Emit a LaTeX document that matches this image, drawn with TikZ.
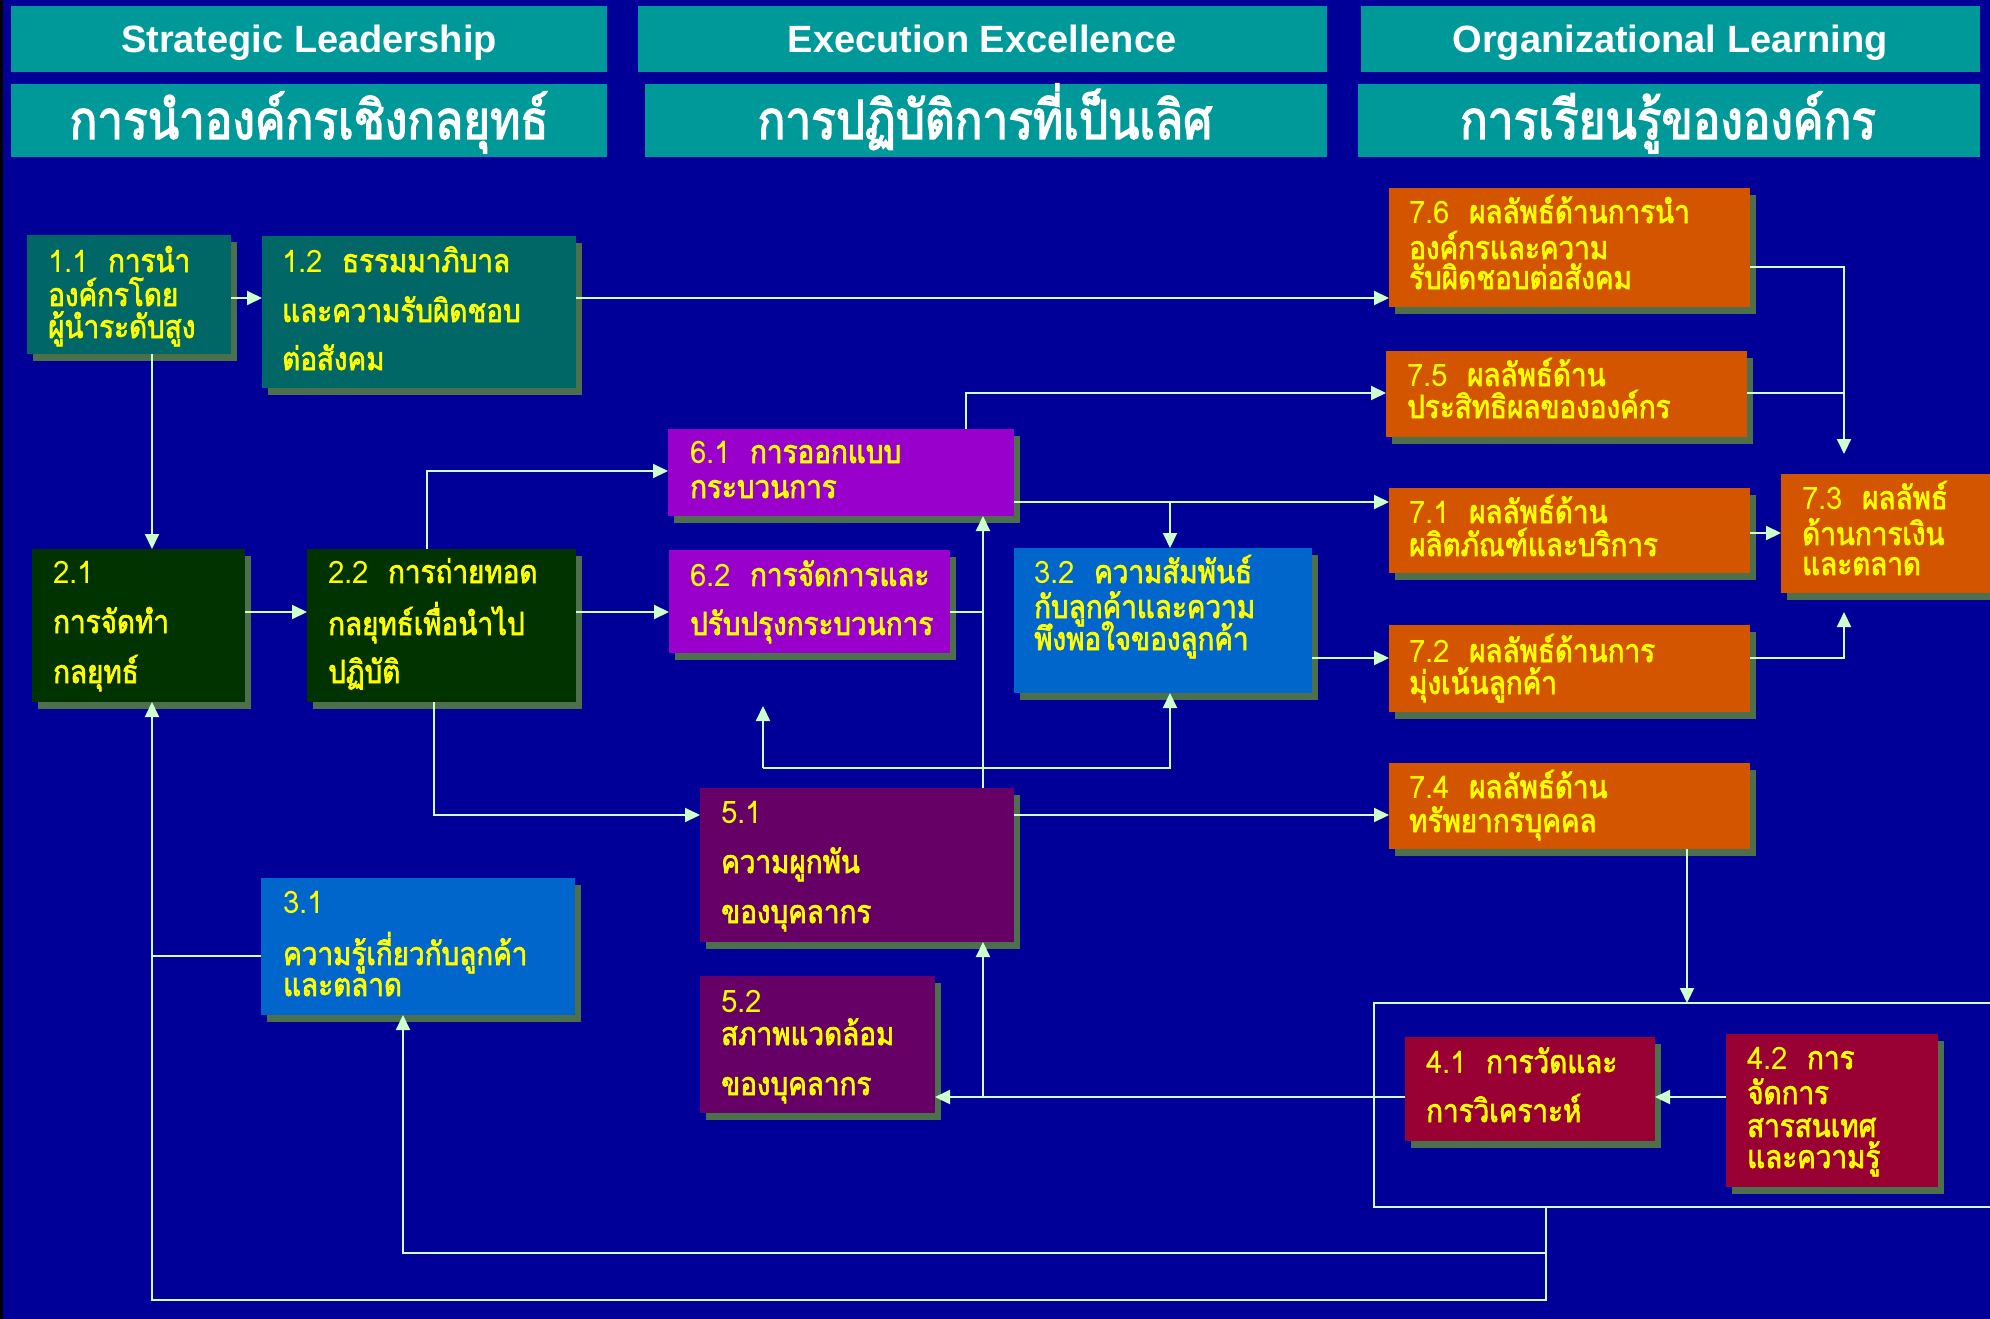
\documentclass[tikz,border=0pt]{standalone}
\usepackage{fontspec}
\usetikzlibrary{arrows.meta,shadows}
\newfontfamily\thaibf[Script=Thai,FakeBold=2.2,FakeStretch=0.87]{Loma}
\newfontfamily\thaihd[Script=Thai,FakeBold=2.5,FakeStretch=0.85]{Loma}
\newfontfamily\thainum[Script=Thai,FakeStretch=0.95]{Loma}
\newfontfamily\hdrf{Liberation Sans}
\definecolor{bg}{RGB}{0,0,153}
\definecolor{hteal}{RGB}{0,153,153}
\definecolor{shd}{RGB}{76,112,76}
\definecolor{ctealdk}{RGB}{0,102,102}
\definecolor{cgreen}{RGB}{0,51,0}
\definecolor{cblue}{RGB}{0,102,204}
\definecolor{cviolet}{RGB}{153,0,204}
\definecolor{cplum}{RGB}{102,0,102}
\definecolor{corange}{RGB}{212,85,0}
\definecolor{ccrimson}{RGB}{153,0,51}
\definecolor{ln}{RGB}{204,255,204}
\definecolor{ylw}{RGB}{255,255,0}
\tikzset{
  bxs/.style={inner sep=0pt, outer sep=0pt, anchor=north west,
    drop shadow={shadow xshift=6pt, shadow yshift=-7pt, fill=shd, opacity=1}},
  hdbox/.style={inner sep=0pt, outer sep=0pt, anchor=north west, fill=hteal},
  tx/.style={inner sep=0pt, anchor=base west, text=ylw,
    font=\thaibf\fontsize{32}{32}\selectfont},
  hden/.style={inner sep=0pt, anchor=base, text=white,
    font=\hdrf\bfseries\fontsize{38}{38}\selectfont},
  hdth/.style={inner sep=0pt, anchor=base, text=white,
    font=\thaihd\fontsize{54}{54}\selectfont},
  cn/.style={draw=ln, line width=2pt},
  ar/.style={cn, -{Triangle[length=15pt,width=14pt]}},
}
\newcommand\mkbox[6]{\node[bxs, fill=#6, minimum width={#4-#2}, minimum height={#5-#3}] (#1) at (#2,#3) {};}
\newcommand\mkhd[5]{\node[hdbox, minimum width={#4-#2}, minimum height={#5-#3}] (#1) at (#2,#3) {};}
\newcommand\nm[1]{{\thainum\fontsize{31}{31}\selectfont #1}\hspace{19pt}}
\begin{document}
\begin{tikzpicture}[x=1pt,y=-1pt]
\useasboundingbox (0,0) rectangle (1990,1319);
\clip (0,0) rectangle (1990,1319);
\fill[bg] (0,0) rectangle (1990,1319);
\fill[black] (0,0) rectangle (3,1319);
% headers
\mkhd{hA}{11}{6}{607}{72}
\mkhd{hB}{638}{6}{1327}{72}
\mkhd{hC}{1361}{6}{1980}{72}
\mkhd{hD}{11}{84}{607}{157}
\mkhd{hE}{645}{84}{1327}{157}
\mkhd{hF}{1358}{84}{1980}{157}
\node[hden] (tA) at (309,53) {Strategic Leadership};
\node[hden] (tB) at (982,53) {Execution Excellence};
\node[hden] (tC) at (1670,53) {Organizational Learning};
\node[hdth] (tD) at (309,139) {การนำองค์กรเชิงกลยุทธ์};
\node[hdth] (tE) at (985,139) {การปฏิบัติการที่เป็นเลิศ};
\node[hdth] (tF) at (1668,139) {การเรียนรู้ขององค์กร};
% enclosure for category 4
\node[draw=ln, line width=2pt, inner sep=0pt, outer sep=0pt, anchor=north west,
  minimum width=640, minimum height=204] (enc) at (1374,1003) {};
% boxes
\mkbox{b11}{27}{235}{231}{354}{ctealdk}
\mkbox{b12}{262}{236}{576}{388}{ctealdk}
\mkbox{b21}{32}{549}{245}{702}{cgreen}
\mkbox{b22}{307}{549}{576}{702}{cgreen}
\mkbox{b31}{261}{878}{575}{1015}{cblue}
\mkbox{b61}{668}{429}{1014}{516}{cviolet}
\mkbox{b62}{669}{550}{950}{653}{cviolet}
\mkbox{b32}{1014}{548}{1312}{693}{cblue}
\mkbox{b51}{700}{788}{1014}{942}{cplum}
\mkbox{b52}{700}{976}{935}{1113}{cplum}
\mkbox{b76}{1389}{188}{1750}{307}{corange}
\mkbox{b75}{1386}{351}{1747}{437}{corange}
\mkbox{b71}{1389}{488}{1750}{573}{corange}
\mkbox{b72}{1389}{625}{1750}{712}{corange}
\mkbox{b74}{1389}{763}{1750}{849}{corange}
\mkbox{b73}{1781}{474}{1996}{593}{corange}
\mkbox{b41}{1405}{1037}{1655}{1141}{ccrimson}
\mkbox{b42}{1726}{1034}{1938}{1187}{ccrimson}
% texts
\node[tx] (t11a) at (48,272) {\nm{1.1}การนำ};
\node[tx] (t11b) at (48,306) {องค์กรโดย};
\node[tx] (t11c) at (48,338) {ผู้นำระดับสูง};
\node[tx] (t12a) at (282,272) {\nm{1.2}ธรรมมาภิบาล};
\node[tx] (t12b) at (282,322) {และความรับผิดชอบ};
\node[tx] (t12c) at (282,370) {ต่อสังคม};
\node[tx] (t21a) at (53,583) {\nm{2.1}};
\node[tx] (t21b) at (53,633) {การจัดทำ};
\node[tx] (t21c) at (53,683) {กลยุทธ์};
\node[tx] (t22a) at (328,583) {\nm{2.2}การถ่ายทอด};
\node[tx] (t22b) at (328,635) {กลยุทธ์เพื่อนำไป};
\node[tx] (t22c) at (328,683) {ปฏิบัติ};
\node[tx] (t31a) at (283,913) {\nm{3.1}};
\node[tx] (t31b) at (283,965) {ความรู้เกี่ยวกับลูกค้า};
\node[tx] (t31c) at (283,996) {และตลาด};
\node[tx] (t61a) at (690,463) {\nm{6.1}การออกแบบ};
\node[tx] (t61b) at (690,498) {กระบวนการ};
\node[tx] (t62a) at (690,586) {\nm{6.2}การจัดการและ};
\node[tx] (t62b) at (690,635) {ปรับปรุงกระบวนการ};
\node[tx] (t32a) at (1034,583) {\nm{3.2}ความสัมพันธ์};
\node[tx] (t32b) at (1034,618) {กับลูกค้าและความ};
\node[tx] (t32c) at (1034,650) {พึงพอใจของลูกค้า};
\node[tx] (t51a) at (721,823) {\nm{5.1}};
\node[tx] (t51b) at (721,873) {ความผูกพัน};
\node[tx] (t51c) at (721,923) {ของบุคลากร};
\node[tx] (t52a) at (721,1012) {\nm{5.2}};
\node[tx] (t52b) at (721,1045) {สภาพแวดล้อม};
\node[tx] (t52c) at (721,1095) {ของบุคลากร};
\node[tx] (t76a) at (1409,223) {\nm{7.6}ผลลัพธ์ด้านการนำ};
\node[tx] (t76b) at (1409,259) {องค์กรและความ};
\node[tx] (t76c) at (1409,289) {รับผิดชอบต่อสังคม};
\node[tx] (t75a) at (1407,386) {\nm{7.5}ผลลัพธ์ด้าน};
\node[tx] (t75b) at (1407,418) {ประสิทธิผลขององค์กร};
\node[tx] (t71a) at (1409,523) {\nm{7.1}ผลลัพธ์ด้าน};
\node[tx] (t71b) at (1409,556) {ผลิตภัณฑ์และบริการ};
\node[tx] (t72a) at (1409,662) {\nm{7.2}ผลลัพธ์ด้านการ};
\node[tx] (t72b) at (1409,694) {มุ่งเน้นลูกค้า};
\node[tx] (t74a) at (1409,798) {\nm{7.4}ผลลัพธ์ด้าน};
\node[tx] (t74b) at (1409,832) {ทรัพยากรบุคคล};
\node[tx] (t73a) at (1802,509) {\nm{7.3}ผลลัพธ์};
\node[tx] (t73b) at (1802,545) {ด้านการเงิน};
\node[tx] (t73c) at (1802,575) {และตลาด};
\node[tx] (t41a) at (1426,1073) {\nm{4.1}การวัดและ};
\node[tx] (t41b) at (1426,1122) {การวิเคราะห์};
\node[tx] (t42a) at (1747,1069) {\nm{4.2}การ};
\node[tx] (t42b) at (1747,1104) {จัดการ};
\node[tx] (t42c) at (1747,1137) {สารสนเทศ};
\node[tx] (t42d) at (1747,1168) {และความรู้};
% connectors
\coordinate (free1) at (763,706);
\draw[ar] (b11.east |- 0,298) -- (b12.west |- 0,298);
\draw[ar] (b12.east |- 0,298) -- (b76.west |- 0,298);
\draw[ar] (b11.south -| 152,0) -- (b21.north -| 152,0);
\draw[ar] (b21.east |- 0,612) -- (b22.west |- 0,612);
\draw[ar] (b22.east |- 0,612) -- (b62.west |- 0,612);
\draw[ar] (b22.north -| 427,0) |- (b61.west |- 0,471);
\draw[ar] (b22.south -| 434,0) |- (b51.west |- 0,815);
\draw[cn] (b31.west |- 0,956) -- (152,956);
\draw[ar] (enc.south -| 1546,0) |- (152,1300) -- (b21.south -| 152,0);
\draw[ar] (1546,1253) -| (b31.south -| 403,0);
\draw[ar] (b51.north -| 983,0) -- (b61.south -| 983,0);
\draw[cn] (b62.east |- 0,612) -- (983,612);
\draw[ar] (b51.east |- 0,815) -- (b74.west |- 0,815);
\draw[ar] (b61.east |- 0,502) -- (b71.west |- 0,502);
\draw[ar] (1170,502) -- (b32.north -| 1170,0);
\draw[ar] (b61.north -| 966,0) |- (b75.west |- 0,393);
\draw[ar] (763,768) -- (free1);
\draw[ar] (763,768) -| (b32.south -| 1170,0);
\draw[ar] (b32.east |- 0,658) -- (b72.west |- 0,658);
\draw[ar, shorten >=20pt] (b76.east |- 0,267) -| (b73.north -| 1844,0);
\draw[cn] (b75.east |- 0,393) -- (1844,393);
\draw[ar] (b71.east |- 0,533) -- (b73.west |- 0,533);
\draw[ar, shorten >=19pt] (b72.east |- 0,658) -| (b73.south -| 1844,0);
\draw[ar] (b74.south -| 1687,0) -- (enc.north -| 1687,0);
\draw[ar] (b42.west |- 0,1097) -- (b41.east |- 0,1097);
\draw[ar] (b41.west |- 0,1097) -- (b52.east |- 0,1097);
\draw[ar] (983,1097) -- (b51.south -| 983,0);
\end{tikzpicture}
\end{document}
